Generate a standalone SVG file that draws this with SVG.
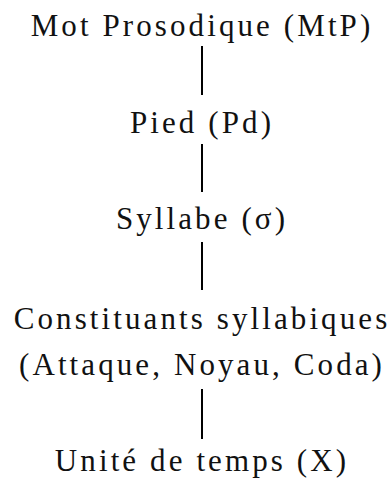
<svg xmlns="http://www.w3.org/2000/svg" width="392" height="482" viewBox="0 0 392 482">
<style>
text{font-family:"Liberation Serif","Times New Roman",serif;font-size:31px;letter-spacing:3.1px;text-anchor:middle;fill:#111}
line{stroke:#000;stroke-width:2}
</style>
<rect width="392" height="482" fill="#fff"/>
<g id="connectors">
<line x1="202" y1="46" x2="202" y2="95"/>
<line x1="202" y1="144" x2="202" y2="192"/>
<line x1="202" y1="242" x2="202" y2="290"/>
<line x1="202" y1="389" x2="202" y2="439"/>
</g>
<g id="mtp"><text x="202" y="36">Mot Prosodique (MtP)</text></g>
<g id="pied"><text x="202" y="133">Pied (Pd)</text></g>
<g id="syllabe"><text x="202" y="229">Syllabe (σ)</text></g>
<g id="constituants"><text x="202" y="329">Constituants syllabiques</text><text x="202" y="375">(Attaque, Noyau, Coda)</text></g>
<g id="unite"><text x="202" y="471">Unité de temps (X)</text></g>
</svg>
